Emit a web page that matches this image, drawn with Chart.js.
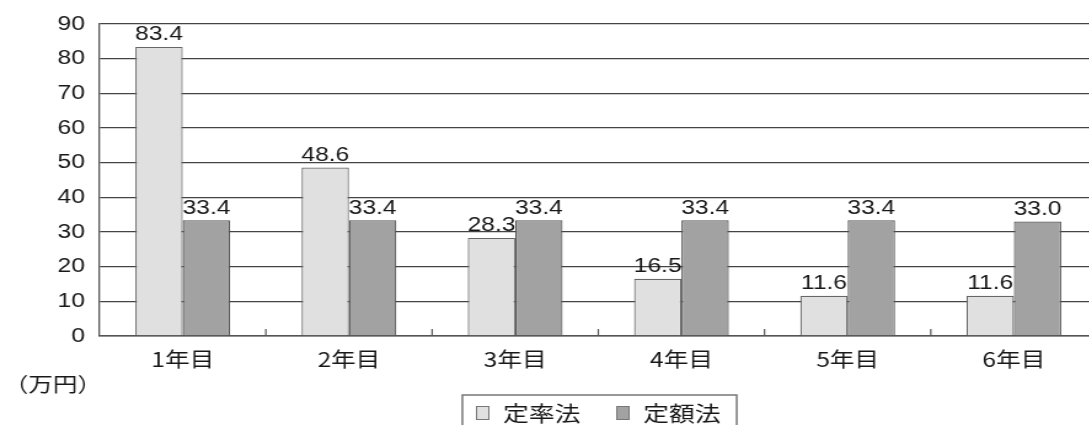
<!DOCTYPE html>
<html><head><meta charset="utf-8">
<script src="https://cdn.jsdelivr.net/npm/chart.js@4/dist/chart.umd.min.js"></script>
<style>
html,body{margin:0;padding:0;background:#fff;overflow:hidden;}
#wrap{width:1089px;height:425px;overflow:hidden;position:relative;}
#c{position:absolute;left:0;top:0;}
</style></head><body>
<div id="wrap"><canvas id="c" width="892" height="425" style="width:1097px;height:425px"></canvas></div>
<script>
const categories = ["1年目","2年目","3年目","4年目","5年目","6年目"];
const teiritsu = [83.4, 48.6, 28.3, 16.5, 11.6, 11.6];
const teigaku = [33.4, 33.4, 33.4, 33.4, 33.4, 33.0];
const seriesNames = ["定率法","定額法"];
const unitLabel = "（万円）";
const yMax = 90, yStep = 10;

const FONT = "'Liberation Sans','Noto Sans CJK JP',sans-serif";
const CJK = "'Noto Sans CJK JP','Liberation Sans',sans-serif";
const TXT = '#181818';

const extras = {
  id:'extras',
  afterDatasetsDraw(chart){
    const ctx = chart.ctx;
    ctx.save();
    ctx.fillStyle = TXT;
    ctx.font = '20px ' + FONT;
    ctx.textAlign = 'center';
    ctx.textBaseline = 'bottom';
    chart.data.datasets.forEach((ds, di) => {
      chart.getDatasetMeta(di).data.forEach((bar, i) => {
        ctx.fillText(ds.data[i].toFixed(1), bar.x, bar.y - 2);
      });
    });
    // small ticks between categories
    const xs = chart.scales.x, ys = chart.scales.y;
    ctx.strokeStyle = '#555'; ctx.lineWidth = 1.2;
    for (let i = 0; i < categories.length - 1; i++) {
      const x = (xs.getPixelForValue(i) + xs.getPixelForValue(i+1)) / 2;
      ctx.beginPath(); ctx.moveTo(x, ys.bottom); ctx.lineTo(x, ys.bottom - 7); ctx.stroke();
    }
    // unit label
    ctx.textAlign = 'left'; ctx.textBaseline = 'middle';
    ctx.font = '20px ' + CJK;
    ctx.fillText(unitLabel, 3, 384);
    // legend
    const lx = 376, ly = 395, lw = 223, lh = 40;
    ctx.strokeStyle = '#777'; ctx.lineWidth = 1.5;
    ctx.strokeRect(lx, ly, lw, lh);
    const cy = 413;
    const items = [{x:387, tx:409}, {x:501, tx:523}];
    chart.data.datasets.forEach((ds, di) => {
      const it = items[di];
      ctx.fillStyle = ds.backgroundColor;
      ctx.fillRect(it.x, cy - 7, 11, 14);
      ctx.strokeStyle = '#777'; ctx.lineWidth = 1;
      ctx.strokeRect(it.x + 0.5, cy - 6.5, 10, 13);
      ctx.fillStyle = TXT;
      ctx.font = '21px ' + CJK;
      ctx.fillText(seriesNames[di], it.tx, cy);
    });
    ctx.restore();
  }
};

new Chart(document.getElementById('c'), {
  type: 'bar',
  data: {
    labels: categories,
    datasets: [
      {label: seriesNames[0], data: teiritsu, backgroundColor: '#e0e0e0', borderColor: '#666', borderWidth: 1.2},
      {label: seriesNames[1], data: teigaku, backgroundColor: '#a2a2a2', borderColor: '#555', borderWidth: 1.2}
    ]
  },
  options: {
    responsive: false,
    animation: false,
    devicePixelRatio: 1,
    layout: {padding: {left: 0, right: 0, top: 13, bottom: 55}},
    plugins: {legend: {display: false}, tooltip: {enabled: false}},
    datasets: {bar: {barPercentage: 1.0, categoryPercentage: 0.57}},
    scales: {
      x: {
        grid: {display: false, drawTicks: false},
        border: {display: true, color: '#555', width: 1.5},
        ticks: {color: TXT, font: {family: CJK, size: 20}, padding: 11},
        afterFit(s){ s.height = 34; }
      },
      y: {
        min: 0, max: yMax,
        ticks: {stepSize: yStep, color: TXT, font: {family: FONT, size: 20}, padding: 12},
        grid: {color: '#444', lineWidth: 1.3, drawTicks: false},
        border: {display: true, color: '#555', width: 1.3},
        afterFit(s){ s.width = 81; }
      }
    }
  },
  plugins: [extras]
});
</script>
</body></html>
